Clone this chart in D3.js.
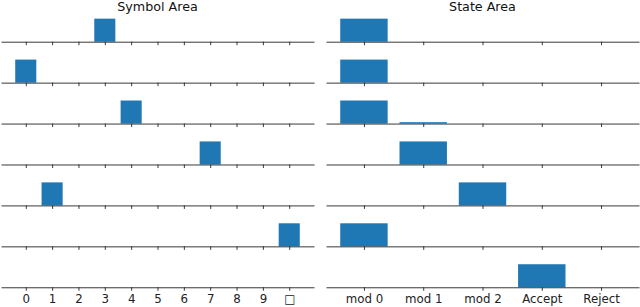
<!DOCTYPE html>
<html>
<head>
<meta charset="utf-8">
<script src="https://cdn.jsdelivr.net/npm/d3@7"></script>
<style>
  body { margin: 0; background: #fff; }
  svg { display: block; font-family: "DejaVu Sans", sans-serif; }
  .tick line, .domain { stroke: #222; stroke-width: 0.9; }
  .tick text { fill: #222; font-size: 11.8px; font-family: "DejaVu Sans", sans-serif; }
</style>
</head>
<body>
<script>
// tick labels
var symbolLabels = ["0", "1", "2", "3", "4", "5", "6", "7", "8", "9", "\u25A1"];
var stateLabels = ["mod 0", "mod 1", "mod 2", "Accept", "Reject"];

// one array per row (time step), values per symbol
var symbolRows = [
  [0, 0, 0, 1, 0, 0, 0, 0, 0, 0, 0],
  [1, 0, 0, 0, 0, 0, 0, 0, 0, 0, 0],
  [0, 0, 0, 0, 1, 0, 0, 0, 0, 0, 0],
  [0, 0, 0, 0, 0, 0, 0, 1, 0, 0, 0],
  [0, 1, 0, 0, 0, 0, 0, 0, 0, 0, 0],
  [0, 0, 0, 0, 0, 0, 0, 0, 0, 0, 1],
  [0, 0, 0, 0, 0, 0, 0, 0, 0, 0, 0]
];

// one array per row, values per state
var stateRows = [
  [1, 0, 0, 0, 0],
  [1, 0, 0, 0, 0],
  [1, 0.06, 0, 0, 0],
  [0, 1, 0, 0, 0],
  [0, 0, 1, 0, 0],
  [1, 0, 0, 0, 0],
  [0, 0, 0, 1, 0]
];

var svgWidth = 640;
var svgHeight = 307;

var svg = d3.select("body")
  .append("svg")
  .attr("width", svgWidth)
  .attr("height", svgHeight);

// row baselines
var firstBase = 41.7;
var rowStep = 40.93;
var axesHeight = 24.2;

function drawPanel(left, right, labels, rows, title) {
  var xScale = d3.scaleLinear()
    .domain([-0.4 - 0.05 * (labels.length - 0.2), labels.length - 0.6 + 0.05 * (labels.length - 0.2)])
    .range([left, right]);
  var step = xScale(1) - xScale(0);
  var barW = step * 0.8;

  var panel = svg.append("g");

  panel.append("text")
    .attr("x", (left + right) / 2)
    .attr("y", 10.5)
    .attr("text-anchor", "middle")
    .style("font-size", "12.7px")
    .style("fill", "#111")
    .text(title);

  rows.forEach(function(vals, r) {
    var base = firstBase + r * rowStep;
    var yScale = d3.scaleLinear()
      .domain([0, 1.05])
      .range([base, base - axesHeight]);

    panel.append("g")
      .selectAll("rect")
      .data(vals)
      .enter()
      .append("rect")
      .attr("x", (d, i) => xScale(i) - barW / 2)
      .attr("width", barW)
      .attr("y", d => yScale(d))
      .attr("height", d => yScale(0) - yScale(d))
      .attr("fill", "#1f77b4");

    var axis = d3.axisBottom(xScale)
      .tickValues(d3.range(labels.length))
      .tickSize(3.5)
      .tickSizeOuter(0)
      .tickPadding(4)
      .tickFormat(i => r === rows.length - 1 ? labels[i] : "");

    panel.append("g")
      .attr("transform", `translate(0, ${base})`)
      .call(axis);
  });
}

drawPanel(1, 314, symbolLabels, symbolRows, "Symbol Area");
drawPanel(326, 639, stateLabels, stateRows, "State Area");
</script>
</body>
</html>
